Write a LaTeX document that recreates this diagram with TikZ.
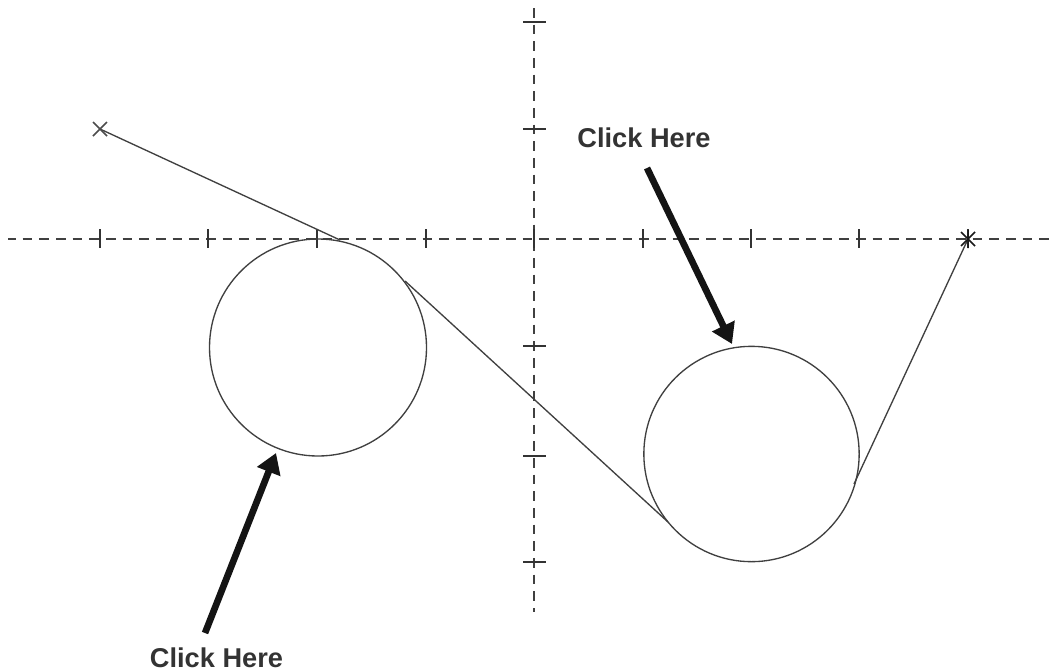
\documentclass[tikz,border=0pt]{standalone}
\usepackage{fontspec}
\setmainfont{Liberation Sans}
\usetikzlibrary{arrows.meta}
\tikzset{
 axis/.style={black!75,line width=1.05pt,dash pattern=on 7.2pt off 5.3pt},
 tick/.style={black!80,line width=0.95pt},
 curve/.style={black!75,line width=1pt},
 ringshape/.style={circle,draw=black!75,line width=1pt,inner sep=0pt},
 bigarrow/.style={black!92,line width=5pt,-{Triangle[length=15pt,width=18pt]}},
 lbl/.style={font=\bfseries\fontsize{20.4}{23}\selectfont,text=black!80,inner sep=0pt},
}
\begin{document}
\begin{tikzpicture}[x=0.75pt,y=-0.75pt]
\useasboundingbox (0,0) rectangle (1055,671);
\fill[white] (0,0) rectangle (1055,671);
\coordinate (hl) at (8,239); \coordinate (hr) at (1055,239);
\coordinate (vt) at (534,8); \coordinate (vb) at (534,612);
\draw[axis,dash phase=1.5pt] (hl)--(hr);
\draw[axis] (vt)--(vb);
\foreach \x in {100,208,317,426,534,643,751,859,968}
  \draw[tick] (\x,229)--(\x,248);
\foreach \y in {22,129,346,456,562}
  \draw[tick] (523,\y)--(546,\y);
\coordinate (s) at (100,129);
\coordinate (t1) at (340,240);
\coordinate (t2) at (405,281);
\coordinate (t3) at (668,522);
\coordinate (t4) at (854,484);
\coordinate (e) at (968,239);
\node[ringshape,minimum size=162.75pt] (c1) at (318,347.5) {};
\node[ringshape,minimum size=161.5pt] (c2) at (751.5,454) {};
\draw[curve] (s)--(t1);
\draw[curve] (t2)--(t3);
\draw[curve] (t4)--(e);
\draw[black!70,line width=1.1pt] (93,122)--(107,136) (93,136)--(107,122);
\draw[black!90,line width=1.1pt] (961,232)--(975,246) (961,246)--(975,232) (968,230)--(968,248);
\coordinate (a1s) at (647,168); \coordinate (a1e) at (732,344);
\coordinate (a2s) at (205,633); \coordinate (a2e) at (276,453);
\draw[bigarrow] (a1s)--(a1e);
\draw[bigarrow] (a2s)--(a2e);
\node[lbl] (l1) at (644,138) {Click Here};
\node[lbl] (l2) at (216.5,657.5) {Click Here};
\end{tikzpicture}
\end{document}
